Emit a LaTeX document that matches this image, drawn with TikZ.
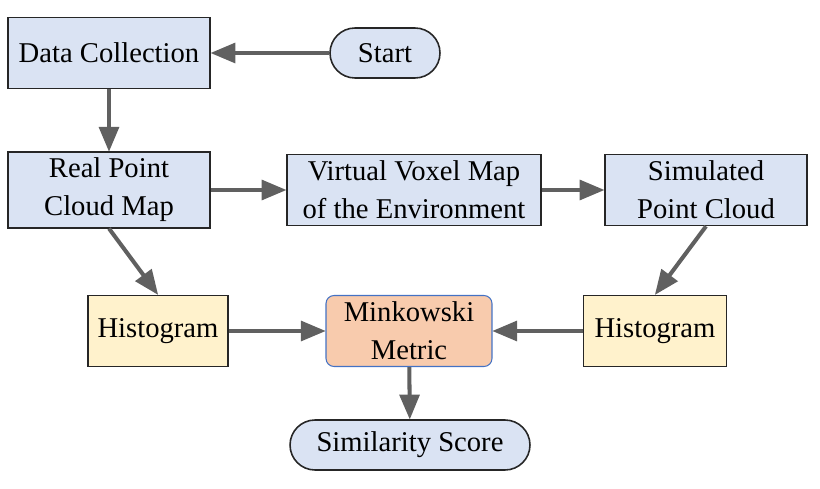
\documentclass[tikz,border=0pt]{standalone}
\usepackage{fontspec}
\setmainfont{Liberation Serif}
\usepackage{tikz}
\usetikzlibrary{arrows}
\definecolor{bleu}{RGB}{218,227,243}
\definecolor{jaune}{RGB}{255,242,204}
\definecolor{orange}{RGB}{248,203,173}
\definecolor{bordbleu}{RGB}{68,114,196}
\definecolor{gris}{RGB}{96,96,96}

\begin{document}
\begin{tikzpicture}[x=0.02cm,y=-0.02cm,
	boite/.style={rectangle,draw=black!85,line width=0.9pt,fill=bleu,minimum height=1.42cm,align=center,font=\fontsize{16.3}{21.5}\selectfont},
	terminal/.style={boite,rounded corners=0.5cm,minimum height=1cm},
	fleche/.style={->,>=triangle 45,draw=gris,line width=2.3pt}]
	\useasboundingbox (0,0) rectangle (820,489);
	% description et nommage des noeuds
	\node (COLLECTE) at (109,53) [boite,minimum width=4.04cm] {Data Collection};
	\node (DEBUT) at (385,53) [terminal,minimum width=2.2cm] {Start};
	\node (REEL) at (109,190) [boite,minimum width=4.04cm] {Real Point\\Cloud Map};
	\node (VOXEL) at (414,190) [boite,minimum width=5.08cm] {Virtual Voxel Map\\of the Environment};
	\node (SIMUL) at (706,190) [boite,minimum width=4.04cm] {Simulated\\Point Cloud};
	\node (HISTG) at (158,331) [boite,fill=jaune,minimum width=2.8cm] {Histogram};
	\node (MINK) at (409,331) [boite,fill=orange,draw=bordbleu,line width=0.6pt,rounded corners=0.16cm,minimum width=3.32cm] {Minkowski\\Metric};
	\node (HISTD) at (655,331) [boite,fill=jaune,minimum width=2.86cm] {Histogram};
	\node (SCORE) at (410,445) [terminal,minimum width=4.8cm] {Similarity Score};
	% description des arêtes
	\draw[fleche] (DEBUT) -- (COLLECTE);
	\draw[fleche] (COLLECTE) -- (REEL);
	\draw[fleche] (REEL) -- (VOXEL);
	\draw[fleche] (VOXEL) -- (SIMUL);
	\draw[fleche] (REEL.south) -- (HISTG.north);
	\draw[fleche] (SIMUL.south) -- (HISTD.north);
	\draw[fleche] (HISTG) -- (MINK);
	\draw[fleche] (HISTD) -- (MINK);
	\draw[fleche] (MINK) -- (SCORE);
\end{tikzpicture}
\end{document}
